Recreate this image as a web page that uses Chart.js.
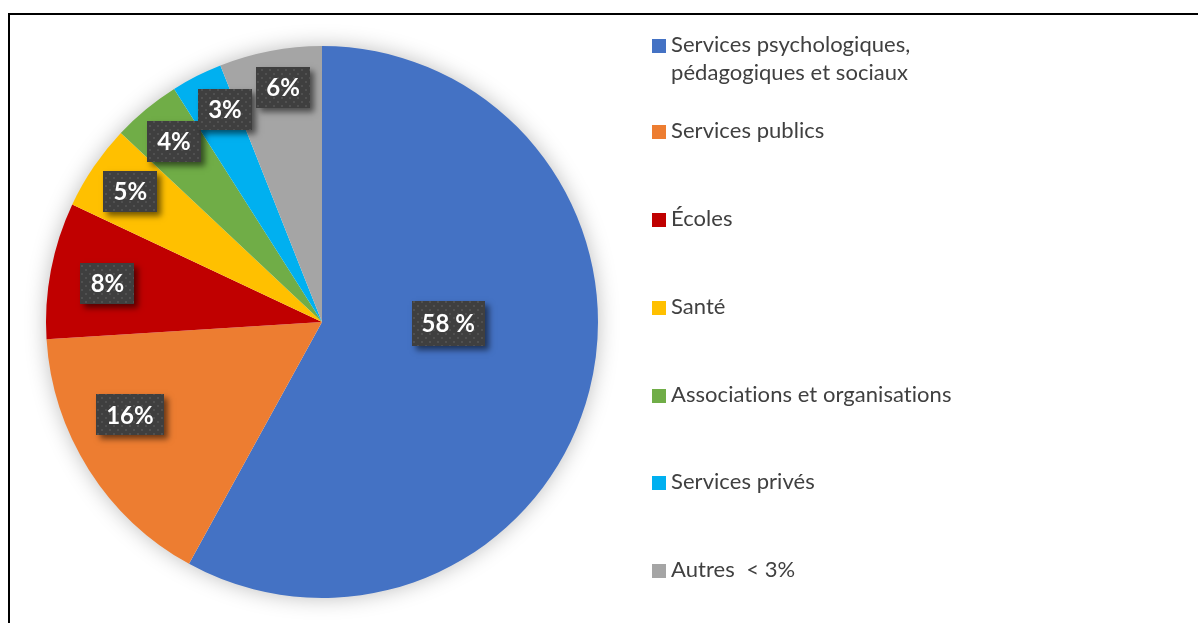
<!DOCTYPE html>
<html lang="fr">
<head>
<meta charset="utf-8">
<script src="https://cdn.jsdelivr.net/npm/chart.js@4.4.1/dist/chart.umd.min.js"></script>
<style>
  html, body { margin: 0; padding: 0; background: #ffffff; overflow: hidden; }
  #wrap { position: relative; width: 1198px; height: 623px; }
</style>
</head>
<body>
<div id="wrap"><canvas id="pie"></canvas></div>
<script>
/* Répartition des répondants par type de service (camembert, style Excel) */

var categories = [
  ['Services psychologiques,', 'pédagogiques et sociaux'],
  ['Services publics'],
  ['Écoles'],
  ['Santé'],
  ['Associations et organisations'],
  ['Services privés'],
  ['Autres  < 3%']
];
var shareValues = [58, 16, 8, 5, 4, 3, 6];
var shareLabels = ['58 %', '16%', '8%', '5%', '4%', '3%', '6%'];
var sliceColors = ['#4472C4', '#ED7D31', '#C00000', '#FFC000', '#70AD47', '#00B0F0', '#A5A5A5'];

// placement des étiquettes : décalage angulaire (degrés) et fraction du rayon
var labelAngleShift = [-13.9, 6.6, -0.5, 0, 0.3, 2.5, 1.4];
var labelRadiusFrac = [0.457, 0.773, 0.79, 0.84, 0.847, 0.848, 0.863];

var LABEL_FONT = 'bold 24px Lato, "Open Sans", sans-serif';
var LEGEND_FONT = '22px Lato, "Open Sans", sans-serif';

function makeDotPattern(ctx) {
  var c = document.createElement('canvas');
  c.width = 8; c.height = 8;
  var p = c.getContext('2d');
  p.fillStyle = '#3f3f3f';
  p.fillRect(0, 0, 8, 8);
  p.fillStyle = '#505050';
  p.fillRect(1, 1, 2, 2);
  p.fillRect(5, 5, 2, 2);
  return ctx.createPattern(c, 'repeat');
}

var framePlugin = {
  id: 'frame',
  beforeDraw: function (chart) {
    var ctx = chart.ctx;
    ctx.save();
    ctx.fillStyle = '#000000';
    ctx.fillRect(8, 13, chart.width - 8, 2);
    ctx.fillRect(8, 13, 2, chart.height - 13);
    ctx.restore();
  }
};

var pieShadowPlugin = {
  id: 'pieShadow',
  beforeDatasetsDraw: function (chart) {
    var arc = chart.getDatasetMeta(0).data[0];
    if (!arc) return;
    var ctx = chart.ctx;
    ctx.save();
    ctx.shadowColor = 'rgba(0,0,0,0.28)';
    ctx.shadowBlur = 22;
    ctx.fillStyle = '#ffffff';
    ctx.beginPath();
    ctx.arc(arc.x, arc.y, arc.outerRadius - 1, 0, Math.PI * 2);
    ctx.fill();
    ctx.restore();
  }
};

var boxLabelPlugin = {
  id: 'boxLabels',
  afterDatasetsDraw: function (chart) {
    var ctx = chart.ctx;
    var pattern = makeDotPattern(ctx);
    var arcs = chart.getDatasetMeta(0).data;
    ctx.save();
    ctx.font = LABEL_FONT;
    ctx.textAlign = 'center';
    ctx.textBaseline = 'middle';
    arcs.forEach(function (arc, i) {
      var mid = (arc.startAngle + arc.endAngle) / 2 + labelAngleShift[i] * Math.PI / 180;
      var r = arc.outerRadius * labelRadiusFrac[i];
      var cx = arc.x + Math.cos(mid) * r;
      var cy = arc.y + Math.sin(mid) * r;
      var tw = ctx.measureText(shareLabels[i]).width;
      var bw = Math.round(tw + 20);
      var bh = i === 0 ? 45 : 41;
      var bx = Math.round(cx - bw / 2);
      var by = Math.round(cy - bh / 2);
      ctx.save();
      ctx.shadowColor = 'rgba(0,0,0,0.55)';
      ctx.shadowBlur = 6;
      ctx.shadowOffsetX = 4;
      ctx.shadowOffsetY = 4;
      ctx.fillStyle = '#3f3f3f';
      ctx.fillRect(bx, by, bw, bh);
      ctx.restore();
      ctx.fillStyle = pattern;
      ctx.fillRect(bx, by, bw, bh);
      ctx.fillStyle = '#ffffff';
      ctx.fillText(shareLabels[i], cx, cy + 1);
    });
    ctx.restore();
  }
};

var sideLegendPlugin = {
  id: 'sideLegend',
  afterDraw: function (chart) {
    var ctx = chart.ctx;
    ctx.save();
    ctx.font = LEGEND_FONT;
    ctx.letterSpacing = '0.05px'; // évite la ligature « ti » de Lato
    ctx.textAlign = 'left';
    ctx.textBaseline = 'middle';
    for (var i = 0; i < categories.length; i++) {
      var y = i === 0 ? 45 : 131.25 + (i - 1) * 87.75;
      ctx.fillStyle = sliceColors[i];
      ctx.fillRect(652, Math.round(y - 6), 14, 14);
      ctx.fillStyle = '#404040';
      for (var l = 0; l < categories[i].length; l++) {
        ctx.fillText(categories[i][l], 671, y + l * 28);
      }
    }
    ctx.restore();
  }
};

new Chart(document.getElementById('pie'), {
  type: 'pie',
  data: {
    labels: categories.map(function (c) { return c.join(' '); }),
    datasets: [{
      data: shareValues,
      backgroundColor: sliceColors,
      borderWidth: 0
    }]
  },
  options: {
    responsive: true,
    maintainAspectRatio: false,
    animation: false,
    layout: { padding: { left: 46, top: 46, right: 600, bottom: 25 } },
    plugins: {
      legend: { display: false },
      tooltip: { enabled: false }
    }
  },
  plugins: [framePlugin, pieShadowPlugin, boxLabelPlugin, sideLegendPlugin]
});
</script>
</body>
</html>
